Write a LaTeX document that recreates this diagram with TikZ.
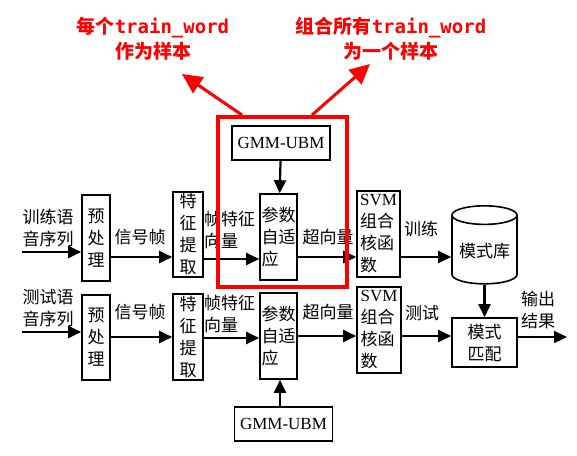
\documentclass[tikz,border=0pt]{standalone}
\usepackage{fontspec}
\setmainfont{Liberation Serif}
\setmonofont{DejaVu Sans Mono}
\newfontfamily\cjk{Noto Sans CJK SC}
\usetikzlibrary{arrows.meta}
\usetikzlibrary{shapes.geometric, positioning}

\begin{document}
\begin{tikzpicture}[x=1pt, y=-1pt,
  blk/.style={draw, line width=1.6pt, inner sep=1pt, align=center,
    font=\fontsize{17}{22}\selectfont\cjk},
  gmm/.style={draw, line width=1.6pt, minimum width=98pt, minimum height=34pt,
    font=\fontsize{17}{22}\selectfont\rmfamily},
  lbl/.style={inner sep=0pt, align=left, font=\fontsize{17}{22}\selectfont\cjk},
  arr/.style={line width=2.2pt, -{Triangle[length=13pt,width=12pt]}},
  redarr/.style={red, line width=3pt, -{Triangle[length=20pt,width=19pt]}},
  note/.style={red, align=center, font=\fontsize{19}{25}\selectfont\bfseries\cjk}]
\useasboundingbox (0,0) rectangle (577,455);

% training row
\node[lbl] (trainin) at (48,228) {训练语\\音序列};
\node[blk, minimum width=28pt, minimum height=86pt] (pre1) at (96,238) {预\\处\\理};
\node[blk, minimum width=30pt, minimum height=85pt] (feat1) at (188,234.5) {特\\征\\提\\取};
\node[blk, minimum width=37pt, minimum height=86pt, align=left] (adapt1) at (278.5,237) {参数\\自适\\应};
\node[blk, minimum width=43pt, minimum height=86pt, align=left] (svm1) at (378.5,234) {{\rmfamily SVM}\\组合\\核函\\数};
\node[blk, cylinder, shape border rotate=90, aspect=0.35,
  minimum width=65pt, minimum height=78pt] (db) at (484.5,251) {模式库};
\node[gmm] (gmm1) at (281,143) {GMM-UBM};

% test row
\node[lbl] (testin) at (48,308.5) {测试语\\音序列};
\node[blk, minimum width=28pt, minimum height=85pt] (pre2) at (96,337.5) {预\\处\\理};
\node[blk, minimum width=30pt, minimum height=86pt] (feat2) at (188,337) {特\\征\\提\\取};
\node[blk, minimum width=37pt, minimum height=86pt, align=left] (adapt2) at (278.5,336) {参数\\自适\\应};
\node[blk, minimum width=44pt, minimum height=86pt, align=left] (svm2) at (379,330) {{\rmfamily SVM}\\组合\\核函\\数};
\node[blk, minimum width=65pt, minimum height=49pt] (match) at (484.5,342.5) {模式\\匹配};
\node[gmm] (gmm2) at (283.5,424) {GMM-UBM};

\coordinate (start1) at (22,252);
\coordinate (start2) at (22,332);
\coordinate (out) at (567,337);

% labels on arrows
\node[lbl] (sig1) at (140,237) {信号帧};
\node[lbl, anchor=west] (fv1) at (204,230) {帧特征\\向量};
\node[lbl] (sv1) at (328,237) {超向量};
\node[lbl] (tr) at (421,229) {训练};
\node[lbl] (sig2) at (140,312) {信号帧};
\node[lbl, anchor=west] (fv2) at (204,314) {帧特征\\向量};
\node[lbl] (sv2) at (328,312) {超向量};
\node[lbl] (te) at (422,313) {测试};
\node[lbl] (res) at (538,310) {输出\\结果};

\draw[arr] (start1) -- (pre1.west |- start1);
\draw[arr] (pre1.east |- 0,257) -- (feat1.west |- 0,257);
\draw[arr] (feat1.east |- 0,259) -- (adapt1.west |- 0,259);
\draw[arr] (adapt1.east |- 0,257) -- (svm1.west |- 0,257);
\draw[arr] (svm1.east |- 0,257) -- (db.west |- 0,257);
\draw[arr] (gmm1) -- (adapt1);

\draw[arr] (start2) -- (pre2.west |- start2);
\draw[arr] (pre2.east |- 0,337) -- (feat2.west |- 0,337);
\draw[arr] (feat2.east |- 0,338) -- (adapt2.west |- 0,338);
\draw[arr] (adapt2.east |- 0,336) -- (svm2.west |- 0,336);
\draw[arr] (svm2.east |- 0,336) -- (match.west |- 0,336);
\draw[arr] (match.east |- out) -- (out);
\draw[arr] (gmm2.north -| 280,0) -- (adapt2.south -| 280,0);
\draw[arr] (db.south) -- (match.north);

% highlight
\draw[red, line width=3.2pt] (218,117) rectangle (347,287);
\node[note] (note1) at (153,39) {每个\texttt{train\_word}\\作为样本};
\node[note] (note2) at (391,39) {组合所有\texttt{train\_word}\\为一个样本};
\coordinate (f1) at (242,115);
\coordinate (f2) at (312,115);
\coordinate (t1) at (182,74);
\coordinate (t2) at (370,64);
\draw[redarr] (f1) -- (t1);
\draw[redarr] (f2) -- (t2);
\end{tikzpicture}
\end{document}
